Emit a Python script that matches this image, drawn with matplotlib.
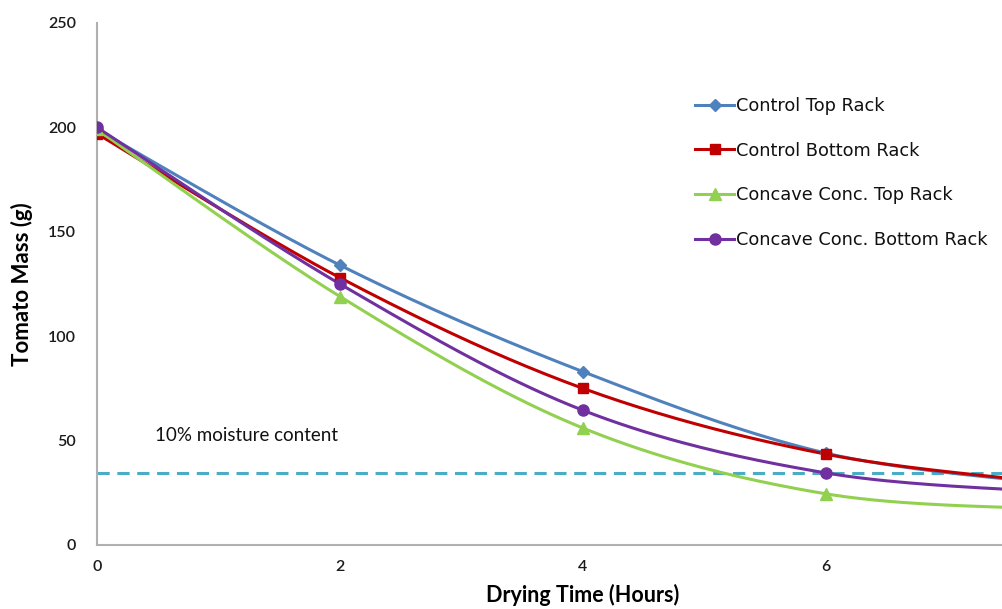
import matplotlib
matplotlib.use("Agg")
import matplotlib.pyplot as plt
import numpy as np

# data (drying time in hours, mass in g)
hours = [0, 2, 4, 6, 8]
control_top = [199, 134, 83, 44, 28.5]
control_bottom = [197, 128, 75, 43.5, 29]
concave_top = [199, 119, 56, 24.5, 17]
concave_bottom = [200, 125, 64.5, 34.5, 25]
moisture_level = 34.5

series = [
    ("Control Top Rack", control_top, "#4f81bd", "D", 6),
    ("Control Bottom Rack", control_bottom, "#c00000", "s", 7),
    ("Concave Conc. Top Rack", concave_top, "#92d050", "^", 8),
    ("Concave Conc. Bottom Rack", concave_bottom, "#7030a0", "o", 8),
]


# excel style smoothed line (bezier through the points)
def smooth(xs, ys, n=40):
    p = np.column_stack([xs, ys]).astype(float)
    p = np.vstack([p[0], p, p[-1]])
    out = []
    for i in range(1, len(p) - 2):
        p0, p1, p2, p3 = p[i - 1], p[i], p[i + 1], p[i + 2]
        c1 = p1 + (p2 - p0) / 6
        c2 = p2 - (p3 - p1) / 6
        t = np.linspace(0, 1, n)[:, None]
        seg = ((1 - t) ** 3) * p1 + 3 * ((1 - t) ** 2) * t * c1 + 3 * (1 - t) * t ** 2 * c2 + t ** 3 * p2
        out.append(seg)
    out = np.vstack(out)
    return out[:, 0], out[:, 1]


fig = plt.figure(figsize=(10.03, 6.09), dpi=100)
# axes runs 0..8 but the picture is cropped at about 7.5
ax = fig.add_axes([97 / 1003, 64 / 609, 972 / 1003, 522 / 609])

for name, vals, col, mk, ms in series:
    sx, sy = smooth(hours, vals)
    ax.plot(sx, sy, color=col, lw=2.2, zorder=3)
    ax.plot(hours, vals, ls="none", marker=mk, color=col, ms=ms, zorder=4)
    ax.plot([], [], color=col, lw=2.2, marker=mk, ms=ms, label=name)

ax.axhline(moisture_level, color="#4bacc6", lw=2.2, ls=(0, (4, 2.5)), zorder=2)
ax.text(0.475, 50, "10% moisture content", fontsize=13.5, family="Lato", color="#111111")

ax.set_xlim(0, 8)
ax.set_ylim(0, 250)
ax.set_xticks([0, 2, 4, 6, 8])
ax.set_xticklabels(["0", "2", "4", "6", ""])
ax.set_yticks([0, 50, 100, 150, 200, 250])
ax.tick_params(length=0, labelsize=11.5, colors="#1a1a1a")
ax.tick_params(axis="y", pad=15)
ax.tick_params(axis="x", pad=11)
for lab in ax.get_xticklabels() + ax.get_yticklabels():
    lab.set_family("Lato")
    lab.set_fontweight("semibold")

for s in ["top", "right"]:
    ax.spines[s].set_visible(False)
for s in ["left", "bottom"]:
    ax.spines[s].set_color("#b0b0b0")
    ax.spines[s].set_linewidth(1.5)

ax.set_xlabel("Drying Time (Hours)", fontsize=15.5, fontweight="bold", family="Lato", labelpad=7)
ax.set_ylabel("Tomato Mass (g)", fontsize=16, fontweight="bold", family="Lato", labelpad=11)

leg = ax.legend(loc="upper left", bbox_to_anchor=(695 / 1003, 1 - 97 / 609),
                bbox_transform=fig.transFigure, frameon=False,
                prop={"family": "DejaVu Sans", "size": 12.8},
                handlelength=2.2, handletextpad=0.1, labelspacing=1.5,
                borderpad=0, borderaxespad=0)
for t in leg.get_texts():
    t.set_color("#111111")

plt.savefig("out.png", dpi=100)
